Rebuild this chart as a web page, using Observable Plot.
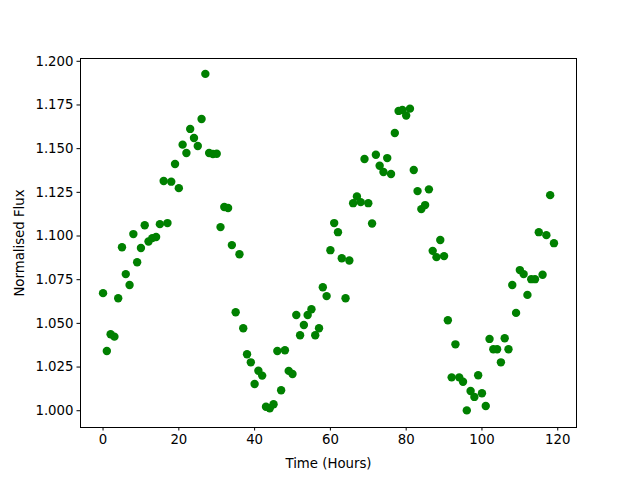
<!DOCTYPE html>
<html>
<head>
<meta charset="utf-8">
<script src="https://cdn.jsdelivr.net/npm/d3@7"></script>
<script src="https://cdn.jsdelivr.net/npm/@observablehq/plot@0.6"></script>
<style>
  body { margin: 0; background: #fff; }
</style>
</head>
<body>
<div id="chart"></div>
<script>
const hours = d3.range(0, 120);
const flux = [
  1.0673, 1.0342, 1.0438, 1.0424, 1.0644, 1.0936, 1.0782, 1.0720, 1.1011, 1.0850,
  1.0931, 1.1062, 1.0969, 1.0988, 1.0994, 1.1068, 1.1315, 1.1074, 1.1311, 1.1412,
  1.1274, 1.1523, 1.1475, 1.1613, 1.1561, 1.1515, 1.1670, 1.1928, 1.1475, 1.1469,
  1.1471, 1.1051, 1.1166, 1.1160, 1.0948, 1.0564, 1.0896, 1.0472, 1.0323, 1.0277,
  1.0153, 1.0229, 1.0201, 1.0023, 1.0014, 1.0037, 1.0342, 1.0117, 1.0346, 1.0228,
  1.0210, 1.0548, 1.0432, 1.0491, 1.0548, 1.0581, 1.0432, 1.0472, 1.0707, 1.0656,
  1.0919, 1.1074, 1.1022, 1.0873, 1.0644, 1.0860, 1.1188, 1.1226, 1.1194, 1.1441,
  1.1188, 1.1072, 1.1465, 1.1402, 1.1366, 1.1446, 1.1355, 1.1590, 1.1716, 1.1721,
  1.1690, 1.1729, 1.1378, 1.1257, 1.1154, 1.1177, 1.1267, 1.0915, 1.0879, 1.0977,
  1.0885, 1.0518, 1.0191, 1.0380, 1.0191, 1.0166, 1.0002, 1.0113, 1.0079, 1.0203,
  1.0100, 1.0027, 1.0411, 1.0352, 1.0352, 1.0277, 1.0415, 1.0352, 1.0720, 1.0560,
  1.0805, 1.0782, 1.0663, 1.0753, 1.0753, 1.1022, 1.0778, 1.1005, 1.1234, 1.0959
];
const xTicks = [0, 20, 40, 60, 80, 100, 120];
const yTicks = [1.000, 1.025, 1.050, 1.075, 1.100, 1.125, 1.150, 1.175, 1.200];

const data = hours.map((t, i) => ({t, f: flux[i]}));

const chart = Plot.plot({
  width: 640,
  height: 480,
  marginLeft: 80,
  marginRight: 64,
  marginTop: 58,
  marginBottom: 53,
  style: {fontFamily: "DejaVu Sans", fontSize: "13.3px", color: "black", background: "white"},
  x: {domain: [-5.95, 124.95]},
  y: {domain: [0.9904, 1.2016]},
  marks: [
    Plot.frame({stroke: "black", strokeWidth: 1}),
    Plot.axisX({ticks: xTicks, tickSize: 3.5, tickPadding: 3.5, tickFormat: d3.format("d"),
      label: "Time (Hours)", labelAnchor: "center", labelArrow: "none", labelOffset: 40}),
    Plot.axisY({ticks: yTicks, tickSize: 3.5, tickPadding: 3.5, tickFormat: d3.format(".3f"),
      label: "Normalised Flux", labelAnchor: "center", labelArrow: "none", labelOffset: 66}),
    Plot.dot(data, {x: "t", y: "f", r: 4.2, fill: "#008000", stroke: "none"})
  ]
});
document.getElementById("chart").appendChild(chart);
</script>
</body>
</html>
